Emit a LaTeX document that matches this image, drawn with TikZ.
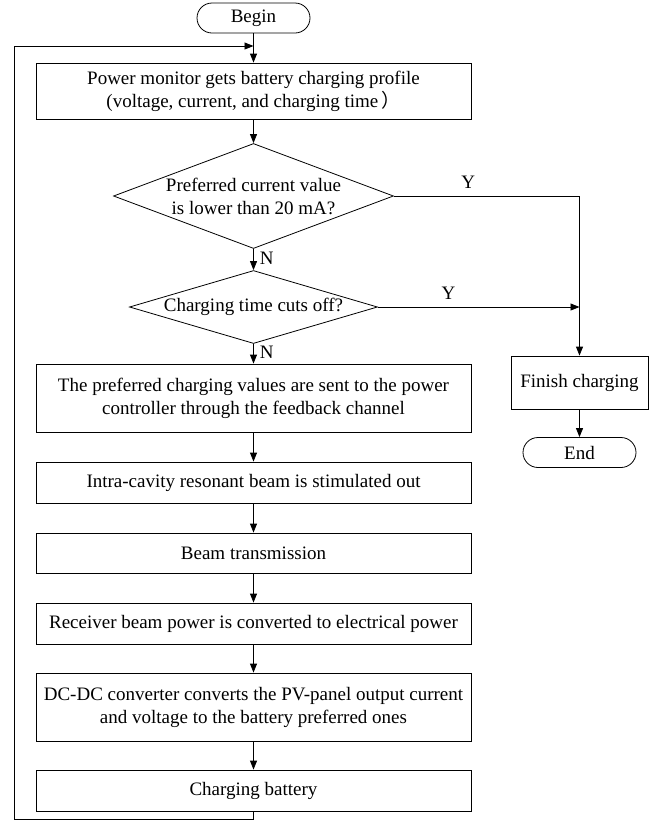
\documentclass[tikz,border=0pt]{standalone}
\usepackage{fontspec}
\setmainfont{Liberation Serif}
\newfontfamily\cjk{Noto Sans CJK SC}
\usepackage{tikz}
\usetikzlibrary{shapes.geometric, arrows.meta}

\begin{document}
\begin{tikzpicture}[x=1pt, y=-1pt, line width=0.8pt,
        every node/.style={font=\fontsize{19}{23}\selectfont, align=center},
        procbox/.style={draw, rectangle, minimum width=435pt, inner xsep=2pt, inner ysep=0pt},
        termbox/.style={draw, rectangle, rounded corners=15pt, minimum width=113pt, minimum height=30pt, inner sep=0pt},
        testbox/.style={draw, diamond, inner sep=-3pt},
        flow/.style={-{Triangle[length=9pt, width=7pt]}}]
            \useasboundingbox (0,0) rectangle (656,823);

            \node[termbox] (begin) at (253.5,18) {Begin};
            \node[procbox, minimum height=56pt] (profile) at (253.5,91)
                {Power monitor gets battery charging profile\\(voltage, current, and charging time\,{\cjk ）}};
            \node[testbox, minimum width=280pt, minimum height=105pt, aspect=2.67] (lowcur) at (253.5,196)
                {Preferred current value\\is lower than 20 mA?};
            \node[testbox, minimum width=248pt, minimum height=73pt, aspect=3.4] (cutoff) at (253.5,307)
                {Charging time cuts off?};
            \node[procbox, minimum height=68pt] (feedback) at (253.5,398)
                {The preferred charging values are sent to the power\\controller through the feedback channel};
            \node[procbox, minimum height=41pt] (stim) at (253.5,482.5) {Intra-cavity resonant beam is stimulated out};
            \node[procbox, minimum height=40pt] (trans) at (253.5,553) {Beam transmission};
            \node[procbox, minimum height=41pt] (recv) at (253.5,623.5) {Receiver beam power is converted to electrical power};
            \node[procbox, minimum height=68pt] (dcdc) at (253.5,707)
                {DC-DC converter converts the PV-panel output current\\and voltage to the battery preferred ones};
            \node[procbox, minimum height=41pt] (charge) at (253.5,790.5) {Charging battery};
            \node[draw, rectangle, minimum width=137pt, minimum height=53pt, inner sep=0pt] (finish) at (579.5,382.5) {Finish charging};
            \node[termbox] (end) at (579.5,452.5) {End};

            \coordinate (loopbot) at (14,819);
            \coordinate (looptop) at (14,46);
            \coordinate (join) at (253.5,46);
            \coordinate (meet) at (579.5,307);

            % main column
            \draw[flow] (begin) -- (profile);
            \draw[flow] (profile) -- (lowcur);
            \draw[flow] (lowcur) -- node[right, inner sep=6pt, yshift=1pt] {N} (cutoff);
            \draw[flow] (cutoff) -- node[right, inner sep=6pt, yshift=1pt] {N} (feedback);
            \draw[flow] (feedback) -- (stim);
            \draw[flow] (stim) -- (trans);
            \draw[flow] (trans) -- (recv);
            \draw[flow] (recv) -- (dcdc);
            \draw[flow] (dcdc) -- (charge);

            % back to the top
            \draw[flow] (charge.south) |- (loopbot) |- (join);

            % yes branches
            \draw[flow] (lowcur.east) -| node[pos=0.2, above, yshift=4pt] {Y} (finish.north);
            \draw[flow] (cutoff.east) -- node[pos=0.35, above, yshift=4pt] {Y} (meet);
            \draw[flow] (finish) -- (end);

        \end{tikzpicture}
\end{document}
